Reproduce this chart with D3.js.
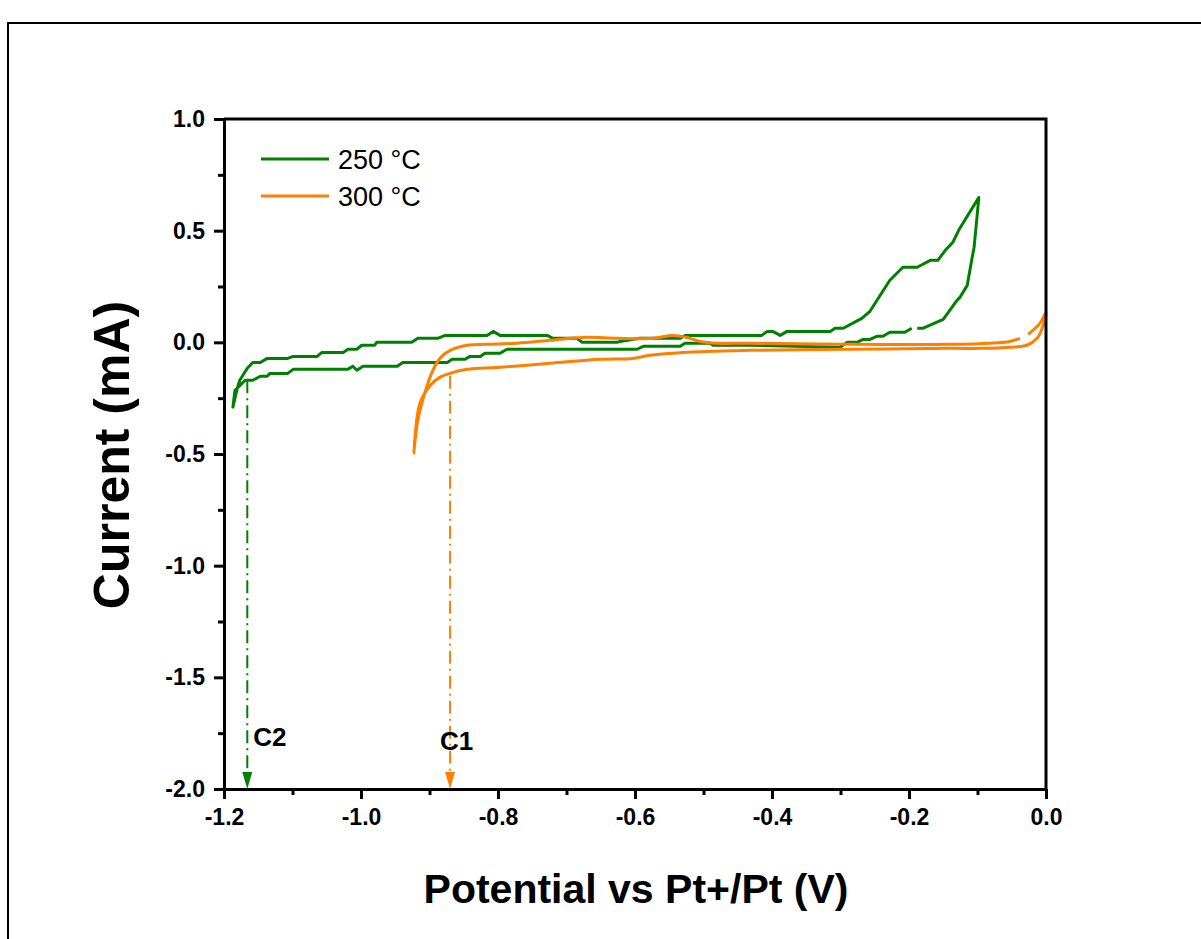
<!DOCTYPE html>
<html>
<head>
<meta charset="utf-8">
<script src="https://cdn.jsdelivr.net/npm/d3@7"></script>
<style>
  html, body { margin: 0; padding: 0; background: #fff; }
  svg { display: block; }
  text { font-family: Arial, "Liberation Sans", sans-serif; }
</style>
</head>
<body>
<svg id="chart" width="1201" height="939"></svg>
<script>
// ---------- data ----------
const seriesNames = ["250 °C", "300 °C"];
const seriesColors = ["#008000", "#ff8000"];

const green250V = [-0.188,-0.180,-0.150,-0.130,-0.126,-0.115,-0.108,-0.105,-0.098,
  -0.126,-0.136,-0.147,-0.158,-0.169,-0.188,-0.209,-0.228,-0.257,-0.269,-0.296,-0.308,-0.315,
  -0.378,-0.388,-0.399,-0.407,-0.415,-0.527,-0.534,-0.593,-0.622,-0.626,-0.677,-0.685,-0.720,
  -0.728,-0.797,-0.807,-0.816,-0.877,-0.888,-0.917,-0.926,-0.977,-0.980,-0.999,-1.006,-1.019,
  -1.026,-1.057,-1.064,-1.099,-1.107,-1.137,-1.147,-1.158,-1.166,-1.177,-1.181,-1.187,
  -1.184,-1.169,-1.158,-1.147,-1.137,-1.133,-1.107,-1.099,-1.019,-1.012,-1.006,-0.997,-0.947,
  -0.939,-0.874,-0.867,-0.848,-0.841,-0.826,-0.819,-0.797,-0.787,-0.597,-0.588,-0.534,-0.527,
  -0.491,-0.486,-0.432,-0.301,-0.290,-0.276,-0.267,-0.257,-0.247,-0.238,-0.228,-0.206,-0.196];
const green250I = [0.063,0.063,0.103,0.188,0.200,0.255,0.376,0.425,0.649,
  0.510,0.448,0.412,0.367,0.367,0.336,0.336,0.278,0.139,0.107,0.063,0.063,0.049,
  0.049,0.031,0.049,0.049,0.031,0.031,0.018,0.018,0.004,0.000,0.000,0.018,0.018,
  0.031,0.031,0.049,0.031,0.031,0.018,0.018,0.000,0.000,-0.013,-0.013,-0.031,-0.031,
  -0.045,-0.045,-0.063,-0.063,-0.072,-0.072,-0.090,-0.090,-0.116,-0.170,-0.210,-0.290,
  -0.215,-0.170,-0.170,-0.152,-0.152,-0.139,-0.139,-0.121,-0.121,-0.107,-0.125,-0.107,-0.107,
  -0.090,-0.090,-0.076,-0.076,-0.063,-0.063,-0.049,-0.049,-0.031,-0.031,-0.018,-0.018,-0.004,
  -0.004,-0.013,-0.013,-0.022,0.000,0.000,0.013,0.013,0.027,0.027,0.045,0.045,0.063];

const orange300V = [-0.026,-0.009,0.000,-0.004,-0.013,-0.028,-0.053,-0.092,-0.140,-0.286,-0.432,
  -0.530,-0.578,-0.603,-0.651,-0.724,-0.797,-0.845,-0.870,-0.885,-0.899,-0.914,-0.923,
  -0.917,-0.907,-0.895,-0.885,-0.870,-0.845,-0.816,-0.772,-0.724,-0.676,-0.626,-0.574,-0.545,
  -0.524,-0.505,-0.480,-0.432,-0.286,-0.140,-0.082,-0.053,-0.038];
const orange300I = [0.036,0.085,0.134,0.076,0.018,-0.013,-0.022,-0.027,-0.027,-0.031,-0.036,
  -0.045,-0.058,-0.072,-0.076,-0.094,-0.112,-0.121,-0.139,-0.157,-0.193,-0.273,-0.497,
  -0.349,-0.228,-0.125,-0.072,-0.036,-0.013,-0.009,-0.004,0.009,0.022,0.018,0.018,0.031,
  0.022,0.004,-0.004,-0.004,-0.009,-0.009,-0.004,0.004,0.018];

// markers (peak potentials) with their labels
const markerLabels = ["C2", "C1"];
const markerV = [-1.166, -0.870];
const markerTopI = [-0.17, -0.15];

const xTicks = [-1.2, -1.0, -0.8, -0.6, -0.4, -0.2, 0.0];
const xMinor = [-1.1, -0.9, -0.7, -0.5, -0.3, -0.1];
const yTicks = [1.0, 0.5, 0.0, -0.5, -1.0, -1.5, -2.0];
const yMinor = [0.75, 0.25, -0.25, -0.75, -1.25, -1.75];

const xTitle = "Potential vs Pt+/Pt (V)";
const yTitle = "Current (mA)";

// ---------- drawing ----------
const svg = d3.select("#chart");
const L = 224, R = 1046, T = 119, B = 789;
const x = d3.scaleLinear().domain([-1.2, 0]).range([L, R]);
const y = d3.scaleLinear().domain([-2, 1]).range([B, T]);

// outer frame (top and left edges)
svg.append("path").attr("d", `M8,939 L8,23 L1201,23`)
  .attr("fill", "none").attr("stroke", "#000").attr("stroke-width", 2);

// curves
const gData = green250V.map((v, i) => [v, green250I[i]]);
const oData = orange300V.map((v, i) => [v, orange300I[i]]);

svg.append("path").datum(gData)
  .attr("d", d3.line().x(d => x(d[0])).y(d => y(d[1])).curve(d3.curveLinear))
  .attr("fill", "none").attr("stroke", seriesColors[0]).attr("stroke-width", 3)
  .attr("stroke-linejoin", "round");
svg.append("path").datum(oData)
  .attr("d", d3.line().x(d => x(d[0])).y(d => y(d[1])).curve(d3.curveCatmullRom.alpha(0.5)))
  .attr("fill", "none").attr("stroke", seriesColors[1]).attr("stroke-width", 3)
  .attr("stroke-linejoin", "round");

// markers
markerV.forEach((v, i) => {
  const col = seriesColors[i];
  const px = x(v);
  svg.append("line")
    .attr("x1", px).attr("x2", px)
    .attr("y1", y(markerTopI[i])).attr("y2", B - 14)
    .attr("stroke", col).attr("stroke-width", 2)
    .attr("stroke-dasharray", "13,5,2,5");
  svg.append("path")
    .attr("d", `M${px - 5},${B - 17} L${px + 5},${B - 17} L${px},${B} Z`)
    .attr("fill", col);
});
svg.append("text").attr("x", x(markerV[0]) + 6).attr("y", 746)
  .attr("font-size", 26).attr("font-weight", "bold").text(markerLabels[0]);
svg.append("text").attr("x", x(markerV[1]) - 10).attr("y", 750)
  .attr("font-size", 26).attr("font-weight", "bold").text(markerLabels[1]);

// axes
const fmt = d => d3.format(".1f")(d).replace("−", "-");
const xAxis = d3.axisBottom(x).tickValues(xTicks).tickSize(10).tickSizeOuter(0)
  .tickFormat(fmt).tickPadding(10);
const gx = svg.append("g").attr("transform", `translate(0,${B})`).call(xAxis);
const xAxisMinor = d3.axisBottom(x).tickValues(xMinor).tickSize(6).tickFormat("");
const gxm = svg.append("g").attr("transform", `translate(0,${B})`).call(xAxisMinor);
gxm.select(".domain").remove();

const yAxis = d3.axisLeft(y).tickValues(yTicks).tickSize(10).tickSizeOuter(0)
  .tickFormat(fmt).tickPadding(9);
const gy = svg.append("g").attr("transform", `translate(${L},0)`).call(yAxis);
const yAxisMinor = d3.axisLeft(y).tickValues(yMinor).tickSize(6).tickFormat("");
const gym = svg.append("g").attr("transform", `translate(${L},0)`).call(yAxisMinor);
gym.select(".domain").remove();

[gx, gxm, gy, gym].forEach(g => {
  g.attr("font-size", 23).attr("font-family", "Arial, 'Liberation Sans', sans-serif");
  g.selectAll("line").attr("stroke", "#000").attr("stroke-width", 3);
  g.selectAll(".domain").attr("stroke", "#000").attr("stroke-width", 3);
  g.selectAll("text").attr("font-size", 23).attr("font-weight", "bold").attr("fill", "#000");
});

// top and right box edges
svg.append("path").attr("d", `M${L},${T} L${R},${T} L${R},${B}`)
  .attr("fill", "none").attr("stroke", "#000").attr("stroke-width", 3);

// axis titles
svg.append("text").attr("x", 636).attr("y", 903).attr("text-anchor", "middle")
  .attr("font-size", 41).attr("font-weight", "bold").text(xTitle);
svg.append("text").attr("transform", `translate(129,455) rotate(-90)`).attr("text-anchor", "middle")
  .attr("font-size", 50).attr("font-weight", "bold").text(yTitle);

// legend
seriesNames.forEach((name, i) => {
  const ly = 159 + i * 37;
  svg.append("line").attr("x1", 261).attr("x2", 329).attr("y1", ly).attr("y2", ly)
    .attr("stroke", seriesColors[i]).attr("stroke-width", 3);
  svg.append("text").attr("x", 338).attr("y", ly + 10).attr("font-size", 27).text(name);
});
</script>
</body>
</html>
